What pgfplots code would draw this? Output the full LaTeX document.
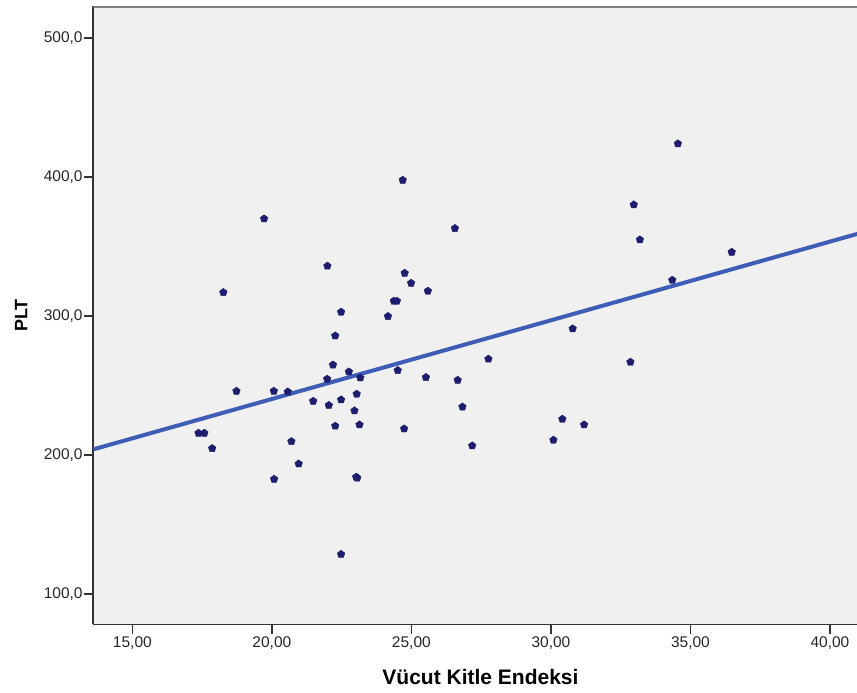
\documentclass[border=0pt]{standalone}
\usepackage{pgfplots}
\pgfplotsset{compat=1.18}
\usepackage{fontspec}
\setmainfont{Liberation Sans}
\definecolor{bg}{HTML}{F0F0F0}
\definecolor{pts}{HTML}{1E1E6E}
\definecolor{fitc}{HTML}{3D5DB7}
\definecolor{axc}{HTML}{333333}
\begin{document}
\begin{tikzpicture}
\begin{axis}[name=ax, scale only axis, width=763.7pt, height=618pt,
  xmin=13.6, xmax=40.97, ymin=78.1, ymax=522.7,
  axis lines*=left,
  axis line style={color=axc, line width=1.6pt, -},
  axis background/.style={fill=bg},
  xtick={15,20,25,30,35,40}, ytick={100,200,300,400,500},
  tick align=outside, major tick length=9pt,
  tick style={color=axc, line width=1.6pt},
  /pgf/number format/assume math mode=true,
  ticklabel style={font=\fontsize{15.5pt}{18pt}\selectfont, color=black!85},
  xticklabel style={/pgf/number format/.cd, fixed, fixed zerofill, precision=2, use comma, 1000 sep={}},
  yticklabel style={inner xsep=1.5pt, /pgf/number format/.cd, fixed, fixed zerofill, precision=1, use comma, 1000 sep={}},
  xlabel={Vücut Kitle Endeksi},
  ylabel={PLT},
  xlabel style={font=\bfseries\fontsize{21pt}{24pt}\selectfont, at={(axis description cs:0.507,-0.085)}, anchor=center},
  ylabel style={font=\bfseries\fontsize{18pt}{20pt}\selectfont, at={(axis description cs:-0.0943,0.5)}, anchor=center},
  clip=true]
\addplot[only marks, mark=pentagon*, mark size=4pt, color=pts] table {
x y
34.55 424.0
24.69 397.8
19.72 370.0
32.97 380.1
26.56 363.1
33.19 354.9
36.48 346.0
21.99 336.0
24.76 330.9
24.99 323.7
24.37 310.8
24.48 310.8
25.59 318.0
18.26 317.0
22.48 302.9
24.16 299.8
34.35 325.9
30.78 290.9
22.27 285.8
27.76 269.1
32.85 266.9
22.19 264.9
24.51 260.9
22.76 259.9
21.98 254.7
23.17 255.6
25.52 255.9
26.66 253.9
18.73 246.0
20.07 246.0
20.57 245.5
23.04 243.9
22.48 239.8
21.48 238.8
22.04 235.8
26.83 234.7
22.96 231.9
30.41 225.9
22.27 220.9
23.14 221.8
24.74 218.9
31.19 221.8
17.37 215.8
17.58 215.8
20.70 209.8
30.09 210.8
17.86 204.8
27.18 206.7
20.96 193.7
20.08 182.7
23.02 184.2
23.06 183.6
22.48 128.6
};
\addplot[color=fitc, line width=4pt] coordinates {(13.6,204.1) (41.0,359.2)};
\draw[color=gray, line width=2.4pt] (rel axis cs:0,1) -- (rel axis cs:1,1);
\end{axis}
\pgfresetboundingbox
\path ([shift={(-93.3pt,-68.5pt)}]ax.south west) rectangle ([shift={(0pt,6.5pt)}]ax.north east);
\end{tikzpicture}
\end{document}
